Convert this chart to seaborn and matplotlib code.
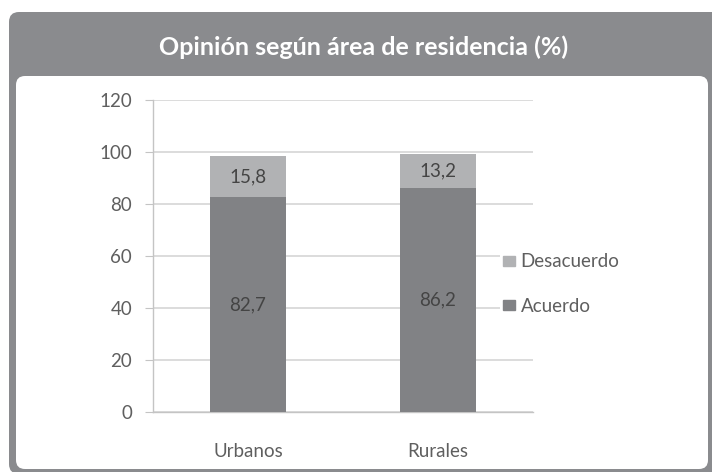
import matplotlib
matplotlib.use("Agg")
import matplotlib.pyplot as plt
from matplotlib.patches import FancyBboxPatch, Patch
import seaborn as sns
import pandas as pd

# data
categories = ["Urbanos", "Rurales"]
acuerdo = [82.7, 86.2]
desacuerdo = [15.8, 13.2]
series_names = ["Desacuerdo", "Acuerdo"]
y_ticks = [0, 20, 40, 60, 80, 100, 120]
title = "Opinión según área de residencia (%)"

col_acuerdo = "#818285"
col_desacuerdo = "#b1b2b4"
col_header = "#8a8b8e"
col_text = "#5f5f5f"
col_grid = "#d9d9d9"

sns.set_style("white")
plt.rcParams["font.family"] = ["Lato", "DejaVu Sans"]
fs = 13.5

df = pd.DataFrame({"area": categories, "acuerdo": acuerdo, "desacuerdo": desacuerdo})
df["total"] = df["acuerdo"] + df["desacuerdo"]

W, H = 712, 472
fig = plt.figure(figsize=(W / 100, H / 100), dpi=100)

# frame, drawn in pixel units
bg = fig.add_axes([0, 0, 1, 1], zorder=-1)
bg.set_xlim(0, W)
bg.set_ylim(H, 0)
bg.axis("off")
bg.add_patch(FancyBboxPatch((9, 12), W + 20, H - 10, boxstyle="round,pad=0,rounding_size=10",
                            fc=col_header, ec="none"))
bg.add_patch(FancyBboxPatch((16, 76), 692, 393, boxstyle="round,pad=0,rounding_size=9",
                            fc="white", ec="none"))
bg.text(364, 55, title, color="white", fontsize=18, fontweight="bold",
        ha="center", va="baseline")

# plot area
ax = fig.add_axes([153 / W, (H - 412) / H, 380 / W, 312 / H])
ax.patch.set_alpha(0)
sns.barplot(data=df, x="area", y="total", color=col_desacuerdo, width=0.4,
            saturation=1, linewidth=0, ax=ax, zorder=3)
sns.barplot(data=df, x="area", y="acuerdo", color=col_acuerdo, width=0.4,
            saturation=1, linewidth=0, ax=ax, zorder=3)

for i, (a, d) in enumerate(zip(acuerdo, desacuerdo)):
    ax.text(i, a / 2, f"{a:.1f}".replace(".", ","), ha="center", va="center",
            fontsize=fs, color="#444444", zorder=4)
    ax.text(i, a + d / 2, f"{d:.1f}".replace(".", ","), ha="center", va="center",
            fontsize=fs, color="#444444", zorder=4)

ax.set_ylim(0, 120)
ax.set_xlim(-0.5, 1.5)
ax.set_yticks(y_ticks)
ax.yaxis.grid(True, color=col_grid, linewidth=1.3, zorder=0)
ax.set_axisbelow(True)
ax.set_xlabel("")
ax.set_ylabel("")
for s in ["top", "right"]:
    ax.spines[s].set_visible(False)
for s in ["left", "bottom"]:
    ax.spines[s].set_color("#c4c4c4")
    ax.spines[s].set_linewidth(1)

ax.set_xticks([0, 1])
ax.set_xticklabels(categories)
ax.set_xticks([-0.5, 0.5, 1.5], minor=True)
ax.tick_params(axis="x", which="major", length=0, pad=22, labelsize=fs, labelcolor=col_text)
ax.tick_params(axis="x", which="minor", length=5, color="#c4c4c4", direction="out")
ax.tick_params(axis="y", length=6, color="#c4c4c4", labelsize=fs, labelcolor=col_text, pad=9,
               left=True)

handles = [Patch(color=col_desacuerdo), Patch(color=col_acuerdo)]
leg = ax.legend(handles, series_names, loc="center left", bbox_to_anchor=(0.913, 0.41),
                frameon=True, facecolor="white", edgecolor="none", framealpha=1,
                fancybox=False, borderpad=0.15, borderaxespad=0,
                handlelength=0.65, handleheight=0.45, handletextpad=0.3,
                labelspacing=1.45, fontsize=fs, labelcolor=col_text)

fig.savefig("out.png", dpi=100)
